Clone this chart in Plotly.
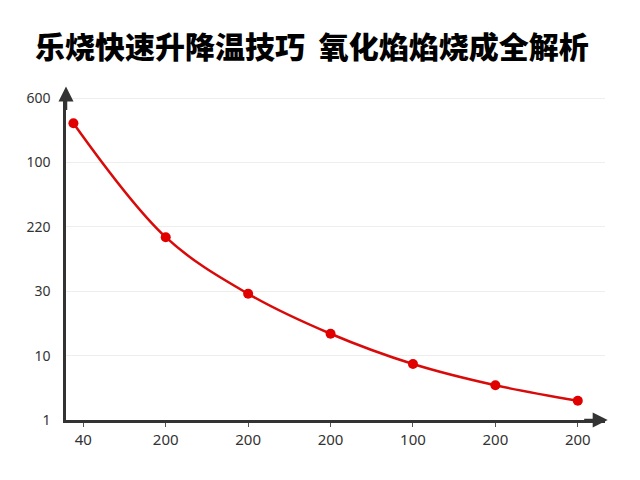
import plotly.graph_objects as go

title = "乐烧快速升降温技巧  氧化焰焰烧成全解析"
x_pos = [-0.12, 1, 2, 3, 4, 5, 6]
y_pos = [4.61, 2.84, 1.96, 1.34, 0.87, 0.54, 0.30]
x_tick_vals = [0, 1, 2, 3, 4, 5, 6]
x_tick_labels = ["40", "200", "200", "200", "100", "200", "200"]
y_tick_vals = [0, 1, 2, 3, 4, 5]
y_tick_labels = ["1", "10", "30", "220", "100", "600"]

fig = go.Figure()
fig.add_trace(go.Scatter(
    x=x_pos, y=y_pos, mode="lines+markers",
    line=dict(color="#d90a0a", width=2.5, shape="spline", smoothing=1.0),
    marker=dict(color="#e00000", size=10),
    showlegend=False, hoverinfo="skip",
))

fig.update_layout(
    width=632, height=472,
    margin=dict(l=58, r=35, t=85, b=60),
    paper_bgcolor="white", plot_bgcolor="white",
    title=dict(text=title, x=0.481, xanchor="center", y=0.917, yanchor="middle", automargin=False,
               font=dict(family="Noto Sans CJK SC", size=30, color="#000000", weight=900)),
    font=dict(family="Noto Sans, DejaVu Sans", color="#333333"),
    xaxis=dict(range=[-0.21, 6.33], tickvals=x_tick_vals, ticktext=x_tick_labels, automargin=False,
               showgrid=False, zeroline=False, showline=True, linecolor="#333333", linewidth=2.5,
               ticks="outside", ticklen=4, tickcolor="#555555", tickfont=dict(size=15, color="#333333")),
    yaxis=dict(range=[0, 5.08], tickvals=y_tick_vals, ticktext=y_tick_labels, automargin=False,
               showgrid=True, gridcolor="#eeeeee", gridwidth=1, zeroline=False,
               showline=True, linecolor="#333333", linewidth=2.5,
               ticks="", ticklabelstandoff=10, tickfont=dict(size=14, color="#333333")),
    annotations=[
        dict(x=0, y=1.02, xref="paper", yref="paper", ax=0, ay=25, axref="pixel", ayref="pixel",
             text="", showarrow=True, arrowhead=2, arrowsize=1.2, arrowwidth=2.5, arrowcolor="#333333"),
        dict(x=1.005, y=0, xref="paper", yref="paper", ax=-25, ay=0,
             text="", showarrow=True, arrowhead=2, arrowsize=1.2, arrowwidth=2.5, arrowcolor="#333333"),
    ],
)

fig.write_html("out.html")
